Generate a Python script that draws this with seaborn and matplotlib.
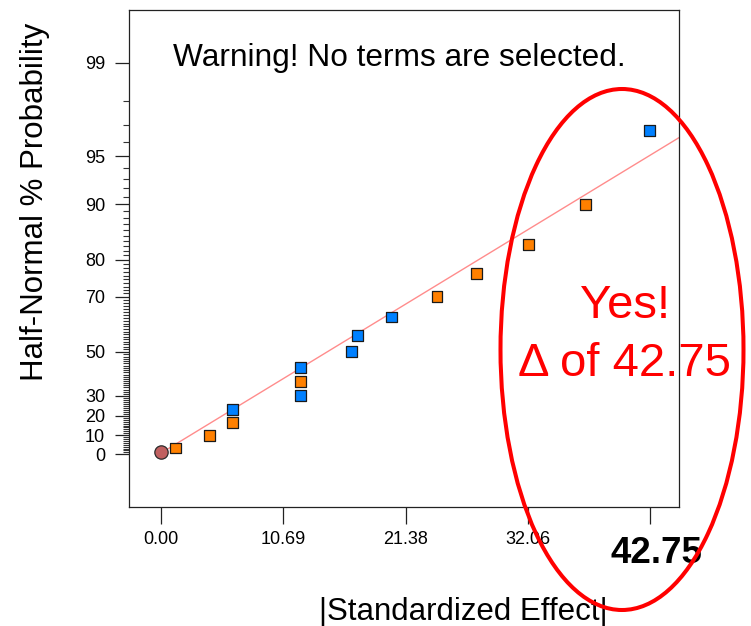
import numpy as np
import pandas as pd
import matplotlib
matplotlib.use("Agg")
import matplotlib.pyplot as plt
from matplotlib.patches import Ellipse
import seaborn as sns
from statistics import NormalDist

# |effect| of each model term, its sign, and its half-normal plotting position (%)
effect_abs = [1.21, 4.19, 6.20, 6.20, 12.17, 12.17, 12.17, 16.63, 17.15,
              20.15, 24.12, 27.60, 32.10, 37.10, 42.75]
effect_sign = ["+", "+", "+", "-", "-", "+", "-", "-", "-",
               "-", "+", "+", "+", "+", "-"]
half_normal_pct = [3.33, 10.00, 16.67, 23.33, 30.00, 36.67, 43.33, 50.00, 56.67,
                   63.33, 70.00, 76.67, 83.33, 90.00, 96.67]

# error estimate shown at the origin
error_effect = [0.0]
error_pct = [1.0]

# reference line through the small effects (z = intercept + slope * |effect|)
fit_intercept_z = 0.009
fit_slope_z = 0.0458

x_ticks = [0.0, 10.69, 21.38, 32.06, 42.75]
x_tick_labels = ["0.00", "10.69", "21.38", "32.06", ""]
y_ticks = [0, 10, 20, 30, 50, 70, 80, 90, 95, 99]
y_minor_ticks = [p for p in range(1, 99) if p not in y_ticks]

biggest_effect_label = "42.75"

# ---------------------------------------------------------------------------
W, H = 751, 626
ORANGE = "#FF8000"
BLUE = "#0080FF"
RED = "#FF0000"

sns.set_style("white")
plt.rcParams["font.family"] = ["Liberation Sans", "DejaVu Sans"]

_nd = NormalDist()
_inv = np.vectorize(_nd.inv_cdf, otypes=[float])
_cdf = np.vectorize(_nd.cdf, otypes=[float])


def pct_to_z(p):
    p = np.asarray(p, dtype=float)
    q = np.clip((1.0 + p / 100.0) / 2.0, 1e-12, 1 - 1e-12)
    return _inv(q)


def z_to_pct(z):
    z = np.asarray(z, dtype=float)
    return (2.0 * _cdf(z) - 1.0) * 100.0


def fx(px):
    return px / W


def fy(py):
    return 1.0 - py / H


fig = plt.figure(figsize=(W / 100, H / 100), dpi=100)
fig.patch.set_facecolor("white")
ax = fig.add_axes([fx(128.5), fy(507), fx(679) - fx(128.5), fy(9.5) - fy(507)])
ax.set_facecolor("white")
ax.set_yscale("function", functions=(pct_to_z, z_to_pct))

xmin, xmax = -2.87, 45.3
ax.set_xlim(xmin, xmax)
ax.set_ylim(float(z_to_pct(-0.347)), float(z_to_pct(2.927)))

# fitted reference line
fit_x = np.array([0.0, xmax])
fit_pct = z_to_pct(fit_intercept_z + fit_slope_z * fit_x)
sns.lineplot(x=fit_x, y=fit_pct, color="#FF8C8C", linewidth=1.0, ax=ax,
             zorder=2, legend=False)

# effects
df = pd.DataFrame({"effect": effect_abs, "pct": half_normal_pct, "sign": effect_sign})
sns.scatterplot(data=df, x="effect", y="pct", hue="sign",
                palette={"+": ORANGE, "-": BLUE}, marker="s", s=60,
                edgecolor="#1a1a1a", linewidth=0.9, legend=False, ax=ax, zorder=3)
sns.scatterplot(x=error_effect, y=error_pct, color="#C06060", marker="o", s=92,
                edgecolor="#2a2a2a", linewidth=0.9, legend=False, ax=ax, zorder=3)

# axes decoration
for sp in ax.spines.values():
    sp.set_visible(True)
    sp.set_color("#222222")
    sp.set_linewidth(0.9)

ax.set_xticks(x_ticks)
ax.set_xticklabels(x_tick_labels)
ax.set_yticks(y_ticks)
ax.set_yticklabels([str(v) for v in y_ticks])
ax.set_yticks(y_minor_ticks, minor=True)
ax.set_xlabel("")
ax.set_ylabel("")

ax.tick_params(axis="x", which="major", bottom=True, length=12, width=0.9,
               pad=5, labelsize=13, color="#222222", labelcolor="black")
ax.tick_params(axis="y", which="major", left=True, length=10.4, width=0.9,
               pad=6.5, labelsize=13, color="#222222", labelcolor="black")
ax.tick_params(axis="y", which="minor", left=True, length=4.6, width=0.8,
               color="#333333")

# titles and notes
fig.text(fx(35.5), fy(201.5), "Half-Normal % Probability", rotation=90,
         ha="center", va="center", fontsize=22.5, color="black")
fig.text(fx(463.5), fy(620), "|Standardized Effect|", ha="center",
         va="baseline", fontsize=22.5, color="black")
fig.text(fx(399), fy(66), "Warning! No terms are selected.", ha="center",
         va="baseline", fontsize=22.8, color="black")

# callout on the largest effect
ax.annotate(biggest_effect_label, xy=(x_ticks[-1], 0), xycoords=("data", "axes fraction"),
            xytext=(4.5, -40.3), textcoords="offset points", ha="center",
            va="baseline", fontsize=26.5, fontweight="bold", color="black",
            annotation_clip=False)
fig.text(fx(625), fy(318), "Yes!", ha="center", va="baseline", fontsize=34, color=RED)
fig.text(fx(625), fy(376), "\u0394 of " + biggest_effect_label, ha="center",
         va="baseline", fontsize=34, color=RED)

fig.add_artist(Ellipse((fx(622), fy(349.5)), 243 / W, 521 / H,
                       transform=fig.transFigure, fill=False,
                       edgecolor=RED, linewidth=2.9, zorder=5))

fig.savefig("out.png", dpi=100, facecolor="white")
